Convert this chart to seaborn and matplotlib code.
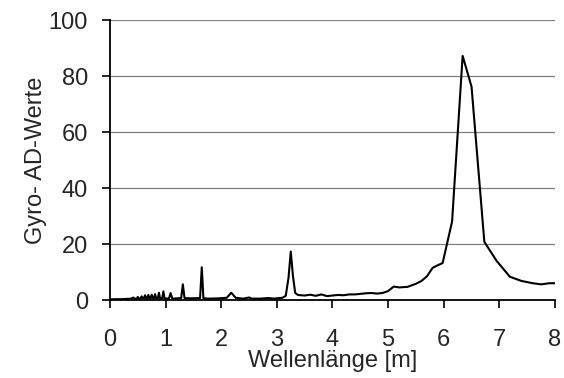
import matplotlib
matplotlib.use("Agg")
import matplotlib.pyplot as plt
import seaborn as sns
import pandas as pd

wavelength_m = [
    0.00, 0.10, 0.20, 0.30, 0.38, 0.42, 0.44, 0.48, 0.50, 0.52, 0.55, 0.57, 0.59,
    0.61, 0.63, 0.65, 0.67, 0.69, 0.71, 0.73, 0.75, 0.77, 0.79, 0.81, 0.83, 0.86,
    0.88, 0.90, 0.94, 0.96, 0.98, 1.06, 1.09, 1.12, 1.20, 1.28, 1.31, 1.34, 1.45,
    1.62, 1.65, 1.68, 1.80, 1.95, 2.10, 2.18, 2.26, 2.40, 2.50, 2.55, 2.70, 2.85,
    2.95, 3.10, 3.16, 3.21, 3.25, 3.29, 3.33, 3.38, 3.50, 3.60, 3.70, 3.80, 3.90,
    4.00, 4.10, 4.20, 4.30, 4.40, 4.50, 4.60, 4.70, 4.80, 4.90, 5.00, 5.10, 5.20,
    5.35, 5.50, 5.60, 5.70, 5.80, 5.90, 5.98, 6.15, 6.34, 6.50, 6.73, 6.95, 7.19,
    7.40, 7.60, 7.75, 7.90, 8.00,
]
gyro_ad = [
    0.2, 0.3, 0.3, 0.4, 0.5, 0.9, 0.5, 0.5, 1.1, 0.5, 0.6, 1.3, 0.6,
    0.6, 1.7, 0.6, 0.6, 1.8, 0.6, 0.6, 1.9, 0.6, 0.6, 2.1, 0.6, 0.6,
    2.6, 0.6, 0.6, 3.1, 0.6, 0.5, 2.5, 0.5, 0.6, 0.7, 5.6, 0.7, 0.6,
    0.7, 11.7, 0.6, 0.5, 0.6, 0.8, 2.6, 0.8, 0.5, 0.9, 0.5, 0.5, 0.7,
    0.5, 0.8, 1.5, 8.0, 17.3, 8.5, 2.5, 1.8, 1.6, 1.9, 1.5, 2.0, 1.4,
    1.6, 1.8, 1.7, 2.0, 2.0, 2.2, 2.4, 2.5, 2.3, 2.5, 3.2, 4.8, 4.5,
    4.7, 5.8, 6.8, 8.5, 11.5, 12.5, 13.2, 28.0, 87.2, 76.2, 20.8, 14.0, 8.3,
    6.8, 6.0, 5.6, 6.0, 6.0,
]
x_ticks = [0, 1, 2, 3, 4, 5, 6, 7, 8]
y_ticks = [0, 20, 40, 60, 80, 100]

sns.set_style("white")
plt.rcParams["font.family"] = ["Liberation Sans", "DejaVu Sans"]

df = pd.DataFrame({"x": wavelength_m, "y": gyro_ad})

fig = plt.figure(figsize=(5.64, 3.78), dpi=100)
ax = fig.add_axes([0.195, 0.2063, 0.789, 0.7407])

for yv in y_ticks[1:]:
    ax.axhline(yv, color="#808080", lw=0.9, zorder=0)

sns.lineplot(data=df, x="x", y="y", ax=ax, color="black", lw=1.5,
             estimator=None, sort=False, zorder=3)

ax.set_xlim(0, 8)
ax.set_ylim(0, 100)
ax.set_xticks(x_ticks)
ax.set_yticks(y_ticks)
ax.set_xticklabels([str(v) for v in x_ticks], fontsize=17)
ax.set_yticklabels([str(v) for v in y_ticks], fontsize=17)
ax.set_xlabel("Wellenlänge [m]", fontsize=17, labelpad=-1)
ax.set_ylabel("Gyro- AD-Werte", fontsize=17, labelpad=1)

for s in ["top", "right"]:
    ax.spines[s].set_visible(False)
for s in ["left", "bottom"]:
    ax.spines[s].set_color("black")
    ax.spines[s].set_linewidth(1.3)

ax.tick_params(axis="both", which="both", direction="out", length=6, width=1.2,
               color="black", bottom=True, left=True)
ax.tick_params(axis="x", pad=15)
ax.tick_params(axis="y", pad=10)

fig.savefig("out.png", dpi=100)
